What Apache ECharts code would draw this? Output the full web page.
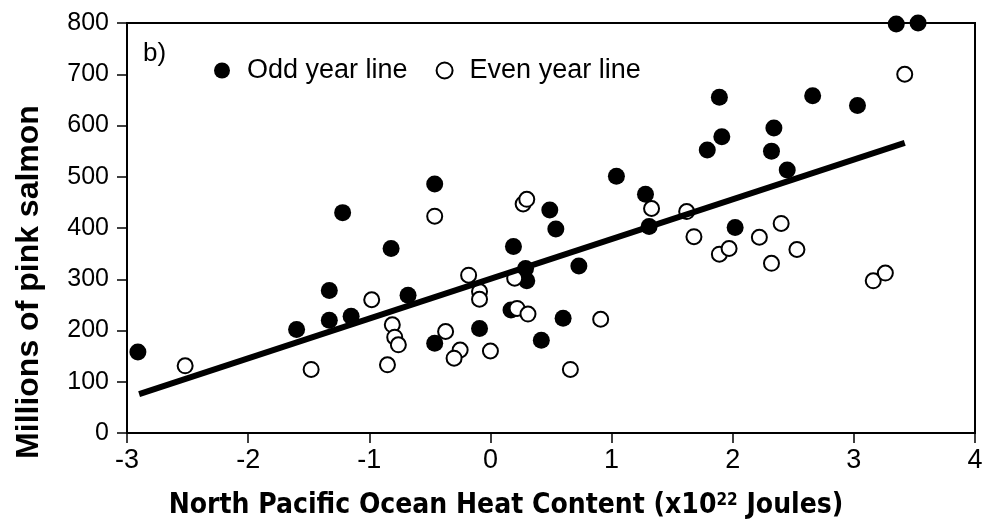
<!DOCTYPE html>
<html>
<head>
<meta charset="utf-8">
<script src="https://cdn.jsdelivr.net/npm/echarts@6/dist/echarts.min.js"></script>
<style>
html,body{margin:0;padding:0;background:#fff;}
#chart{width:982px;height:519px;}
</style>
</head>
<body>
<div id="chart"></div>
<script>
// Odd year line (filled circles)
var oddX = [-2.91, -1.60, -1.33, -1.33, -1.15, -1.22, -0.82, -0.68, -0.46, -0.46, -0.09, 0.19, 0.17, 0.29, 0.30, 0.42, 0.49, 0.54, 0.60, 0.73, 1.04, 1.28, 1.31, 1.89, 1.91, 1.79, 2.02, 2.34, 2.32, 2.45, 2.66, 3.03, 3.35, 3.53];
var oddY = [158, 202, 278, 220, 228, 430, 360, 269, 175, 486, 204, 364, 240, 321, 297, 181, 435, 398, 224, 326, 501, 466, 403, 655, 578, 552, 401, 595, 550, 513, 658, 639, 798, 800];
// Even year line (open circles)
var evenX = [-2.52, -1.48, -0.98, -0.81, -0.79, -0.76, -0.85, -0.46, -0.37, -0.25, -0.30, -0.18, -0.09, -0.09, 0.00, 0.20, 0.22, 0.31, 0.27, 0.30, 0.66, 0.91, 1.33, 1.62, 1.68, 1.89, 1.97, 2.22, 2.32, 2.40, 2.53, 3.16, 3.26, 3.42];
var evenY = [131, 124, 260, 211, 187, 172, 133, 423, 198, 162, 146, 308, 276, 261, 160, 302, 243, 232, 447, 456, 124, 222, 438, 432, 383, 349, 360, 382, 331, 409, 358, 297, 312, 700];
// Regression line end points
var trendX = [-2.90, 3.42];
var trendY = [76, 566];
// Tick labels
var xTicks = [-3, -2, -1, 0, 1, 2, 3, 4];
var yTicks = [0, 100, 200, 300, 400, 500, 600, 700, 800];

var FONT = "'Liberation Sans', Arial, Helvetica, sans-serif";
var TFONT = "'DejaVu Sans Condensed', 'Open Sans', 'DejaVu Sans', sans-serif";

function pairs(xs, ys) { return xs.map(function (x, i) { return [x, ys[i]]; }); }

var chart = echarts.init(document.getElementById('chart'), null, {renderer: 'canvas'});
chart.setOption({
  animation: false,
  backgroundColor: '#fff',
  grid: {left: 127, top: 23, width: 848, height: 410, outerBoundsMode: 'none', containLabel: false,
         show: true, borderColor: '#000', borderWidth: 2, backgroundColor: 'transparent'},
  legend: {
    left: 209, top: 52, itemWidth: 16, itemHeight: 16, itemGap: 28,
    textStyle: {fontFamily: FONT, fontSize: 27, color: '#000', padding: [0, 0, 0, 12]},
    data: [
      {name: 'Odd year line', icon: 'circle', itemStyle: {color: '#000', borderWidth: 0}},
      {name: 'Even year line', icon: 'circle', itemStyle: {color: '#fff', borderColor: '#000', borderWidth: 2}}
    ]
  },
  graphic: [
    {type: 'text', left: 143, top: 41, style: {text: 'b)', font: '26px ' + FONT, fill: '#000'}},
    {type: 'text', x: 29, y: 282, rotation: Math.PI / 2,
     style: {text: 'Millions of pink salmon', font: 'bold 32px ' + FONT, fill: '#000', textAlign: 'center', textVerticalAlign: 'middle'}}
  ],
  xAxis: {
    type: 'value', min: xTicks[0], max: xTicks[xTicks.length - 1], interval: 1,
    splitLine: {show: false},
    axisLine: {show: true, onZero: false, lineStyle: {color: '#000', width: 2}},
    axisTick: {show: true, length: 10, lineStyle: {color: '#000', width: 1.5}},
    axisLabel: {fontFamily: FONT, fontSize: 27, color: '#000', margin: 14},
    name: 'North Pacific Ocean Heat Content (x10{sup|22} Joules)',
    nameLocation: 'middle', nameGap: 59,
    nameTextStyle: {
      fontFamily: TFONT, fontWeight: 'bold', fontSize: 28, color: '#000', padding: [0, 90, 0, 0],
      rich: {sup: {fontFamily: TFONT, fontWeight: 'bold', fontSize: 17, color: '#000', verticalAlign: 'top', padding: [0, 0, 11, 0]}}
    }
  },
  yAxis: {
    type: 'value', min: yTicks[0], max: yTicks[yTicks.length - 1], interval: 100,
    splitLine: {show: false},
    axisLine: {show: true, onZero: false, lineStyle: {color: '#000', width: 2}},
    axisTick: {show: true, length: 10, lineStyle: {color: '#000', width: 1.5}},
    axisLabel: {fontFamily: FONT, fontSize: 25, color: '#000', margin: 18}
  },
  series: [
    {name: 'Odd year line', type: 'scatter', symbol: 'circle', symbolSize: 17, clip: false,
     itemStyle: {color: '#000', opacity: 1}, data: pairs(oddX, oddY), z: 3},
    {name: 'Even year line', type: 'scatter', symbol: 'circle', symbolSize: 15, clip: false,
     itemStyle: {color: '#fff', borderColor: '#000', borderWidth: 2, opacity: 1}, data: pairs(evenX, evenY), z: 3},
    {name: 'trend', type: 'line', symbol: 'none', silent: true, z: 4,
     lineStyle: {color: '#000', width: 6, cap: 'butt'}, data: pairs(trendX, trendY)}
  ]
});
</script>
</body>
</html>
